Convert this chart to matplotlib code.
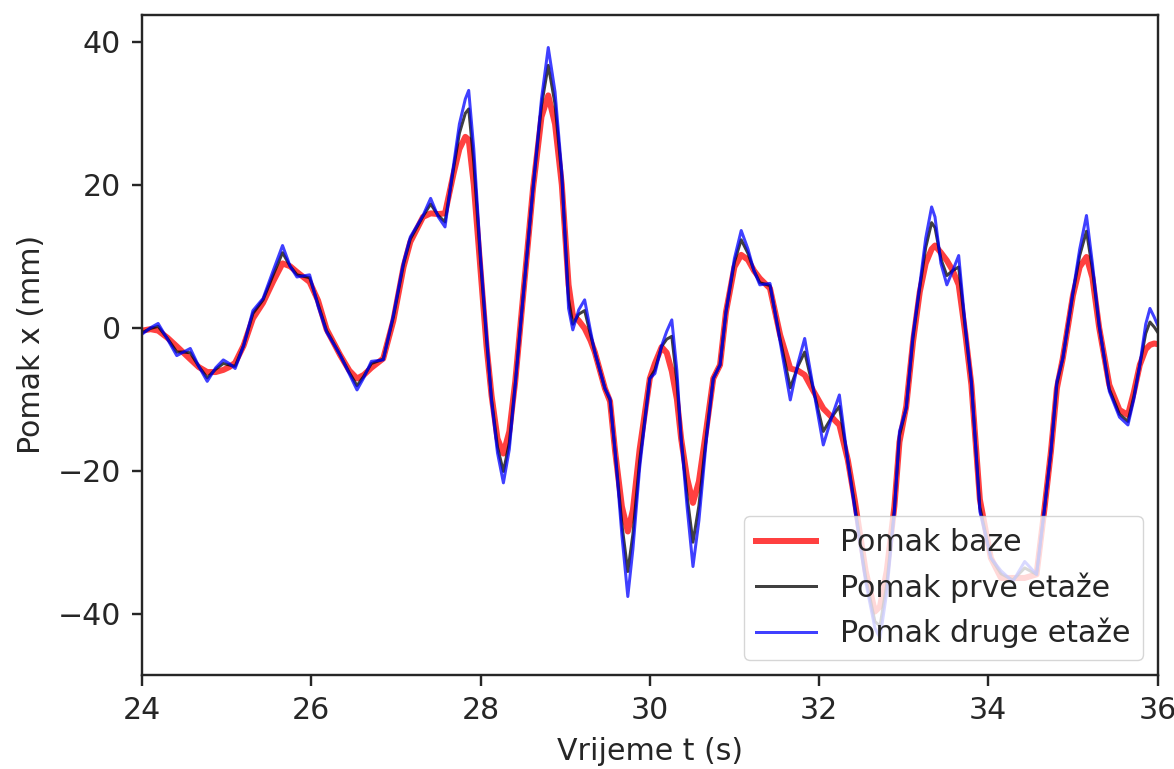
import matplotlib
matplotlib.use("Agg")
import matplotlib.pyplot as plt

# time (s) and displacements (mm)
t = [24.00, 24.10, 24.19, 24.30, 24.41, 24.49, 24.57, 24.67, 24.77, 24.87,
     24.96, 25.03, 25.10, 25.20, 25.31, 25.43, 25.55, 25.66, 25.75, 25.83,
     25.98, 26.08, 26.18, 26.34, 26.45, 26.54, 26.62, 26.71, 26.85, 26.97,
     27.09, 27.17, 27.32, 27.41, 27.50, 27.58, 27.68, 27.75, 27.82, 27.86,
     27.92, 28.00, 28.07, 28.13, 28.20, 28.27, 28.34, 28.41, 28.48, 28.62,
     28.72, 28.80, 28.88, 28.96, 29.04, 29.09, 29.16, 29.23, 29.30, 29.35,
     29.47, 29.53, 29.59, 29.67, 29.74, 29.80, 29.88, 30.00, 30.06, 30.14,
     30.20, 30.26, 30.32, 30.37, 30.44, 30.51, 30.58, 30.67, 30.75, 30.83,
     30.90, 31.00, 31.08, 31.16, 31.23, 31.30, 31.42, 31.54, 31.66, 31.75,
     31.83, 31.94, 32.05, 32.15, 32.24, 32.34, 32.42, 32.55, 32.66, 32.72,
     32.80, 32.89, 32.95, 33.03, 33.11, 33.19, 33.26, 33.33, 33.37, 33.44,
     33.51, 33.58, 33.65, 33.73, 33.80, 33.90, 34.03, 34.15, 34.29, 34.43,
     34.57, 34.66, 34.74, 34.81, 34.88, 35.00, 35.08, 35.16, 35.23, 35.31,
     35.43, 35.55, 35.65, 35.72, 35.79, 35.86, 35.91, 35.96, 36.00]

baza = [-0.4, -0.2, -0.4, -1.4, -2.6, -3.5, -4.4, -5.5, -6.2, -6.2,
        -5.9, -5.5, -4.9, -2.5, 1.3, 3.5, 6.5, 9.0, 8.6, 7.8,
        6.4, 3.8, -0.2, -3.8, -6.0, -7.1, -6.6, -5.6, -4.3, 1.0,
        8.5, 12.0, 15.5, 16.0, 15.9, 16.0, 21.5, 25.0, 26.7, 26.3,
        20.0, 8.0, -2.5, -9.5, -15.5, -17.6, -14.5, -7.5, 1.5, 19.5,
        29.5, 32.5, 28.5, 20.0, 6.0, 1.8, 1.0, -0.1, -1.8, -3.4,
        -8.5, -10.3, -17.3, -25.0, -28.5, -25.5, -17.0, -7.1, -5.0, -2.7,
        -3.5, -6.1, -10.0, -15.5, -21.0, -24.5, -21.5, -14.0, -7.1, -5.2,
        2.2, 8.5, 10.2, 9.5, 8.0, 6.9, 5.5, -1.0, -5.7, -6.0,
        -6.6, -9.0, -11.3, -12.5, -13.6, -18.5, -24.0, -34.0, -39.7, -39.0,
        -34.0, -25.0, -16.0, -11.0, -2.0, 5.0, 9.0, 11.0, 11.5, 10.5,
        9.4, 8.0, 6.0, -1.0, -8.0, -24.0, -32.2, -35.0, -35.0, -35.0,
        -34.5, -25.7, -17.3, -8.5, -4.3, 4.5, 8.5, 9.9, 7.0, 0.0,
        -8.0, -11.5, -12.2, -9.0, -5.2, -3.0, -2.4, -2.2, -2.3]

prva = [-0.7, -0.1, 0.2, -1.5, -3.4, -3.4, -3.5, -5.4, -7.0, -5.8,
        -5.0, -5.2, -5.4, -2.5, 2.0, 3.9, 7.4, 10.5, 8.6, 7.4,
        7.0, 3.3, -0.4, -3.8, -6.3, -8.1, -6.8, -5.0, -4.4, 1.5,
        8.9, 12.4, 15.6, 17.3, 15.7, 14.8, 22.2, 27.2, 30.0, 30.6,
        23.1, 9.2, -1.6, -10.0, -16.7, -20.1, -16.1, -7.8, 1.4, 19.5,
        31.1, 36.7, 31.3, 21.1, 4.0, 0.5, 1.9, 2.4, -1.0, -3.4,
        -8.5, -10.1, -17.3, -27.5, -34.1, -28.9, -18.6, -7.1, -5.9, -2.6,
        -1.6, -1.2, -7.5, -15.5, -23.5, -30.0, -24.9, -14.9, -7.1, -5.2,
        2.2, 9.2, 12.3, 10.4, 8.0, 6.3, 5.9, -1.6, -8.4, -5.4,
        -3.4, -9.0, -14.5, -12.5, -11.0, -18.6, -24.7, -34.9, -41.1, -41.7,
        -35.9, -25.4, -15.1, -11.2, -1.4, 5.6, 11.2, 14.7, 14.0, 9.6,
        7.3, 8.0, 8.5, -0.4, -7.7, -25.1, -32.2, -34.4, -35.3, -33.6,
        -34.5, -25.7, -17.3, -7.9, -4.3, 4.8, 10.1, 13.5, 8.2, 0.2,
        -8.6, -12.1, -13.1, -9.6, -5.2, -0.8, 0.8, 0.1, -0.6]

druga = [-0.9, 0.0, 0.6, -1.6, -3.9, -3.4, -2.9, -5.4, -7.5, -5.6,
         -4.5, -5.0, -5.7, -2.5, 2.4, 4.1, 8.0, 11.5, 8.6, 7.1,
         7.4, 3.0, -0.6, -3.8, -6.5, -8.7, -7.0, -4.7, -4.5, 1.8,
         9.2, 12.7, 15.7, 18.1, 15.5, 14.1, 22.7, 28.5, 32.0, 33.2,
         25.0, 10.0, -1.0, -10.3, -17.5, -21.7, -17.0, -8.0, 1.3, 19.5,
         32.0, 39.2, 33.0, 21.8, 2.7, -0.3, 2.5, 3.9, -0.5, -3.4,
         -8.5, -9.9, -17.3, -29.0, -37.6, -31.0, -19.6, -7.1, -6.4, -2.5,
         -0.5, 1.1, -6.0, -15.5, -25.0, -33.4, -27.0, -15.5, -7.1, -5.2,
         2.2, 9.7, 13.6, 11.0, 8.0, 6.0, 6.2, -2.0, -10.1, -5.0,
         -1.5, -9.0, -16.4, -12.5, -9.4, -18.7, -25.2, -35.5, -42.0, -43.4,
         -37.0, -25.7, -14.5, -11.3, -1.0, 6.0, 12.5, 16.9, 15.5, 9.0,
         6.0, 8.0, 10.1, 0.0, -7.5, -25.7, -32.2, -34.0, -35.5, -32.7,
         -34.5, -25.7, -17.3, -7.5, -4.3, 5.0, 11.0, 15.7, 9.0, 0.4,
         -8.9, -12.5, -13.6, -10.0, -5.2, 0.5, 2.7, 1.5, 0.4]

s = 2.16  # scale from the small original figure
plt.rcParams.update({
    "font.size": 10 * s,
    "axes.linewidth": 0.8 * s,
    "xtick.major.size": 3.5 * s,
    "ytick.major.size": 3.5 * s,
    "xtick.major.width": 0.8 * s,
    "ytick.major.width": 0.8 * s,
    "xtick.major.pad": 3.5 * s,
    "ytick.major.pad": 3.5 * s,
    "axes.labelpad": 4 * s,
    "axes.edgecolor": "#262626",
    "text.color": "#262626",
    "xtick.color": "#262626",
    "ytick.color": "#262626",
    "axes.labelcolor": "#262626",
})

fig, ax = plt.subplots(figsize=(11.74, 7.69), dpi=100)
fig.subplots_adjust(left=0.121, right=0.986, bottom=0.122, top=0.981)

ax.plot(t, baza, color="r", alpha=0.75, lw=2 * s, label="Pomak baze")
ax.plot(t, prva, color="k", alpha=0.75, lw=1 * s, label="Pomak prve etaže")
ax.plot(t, druga, color="b", alpha=0.75, lw=1 * s, label="Pomak druge etaže")

ax.set_xlim(24, 36)
ax.set_ylim(-48.6, 43.8)
ax.set_xticks([24, 26, 28, 30, 32, 34, 36])
ax.set_yticks([-40, -20, 0, 20, 40])
ax.set_xlabel("Vrijeme t (s)")
ax.set_ylabel("Pomak x (mm)")
ax.legend(loc="lower right")

plt.savefig("out.png", dpi=100)
